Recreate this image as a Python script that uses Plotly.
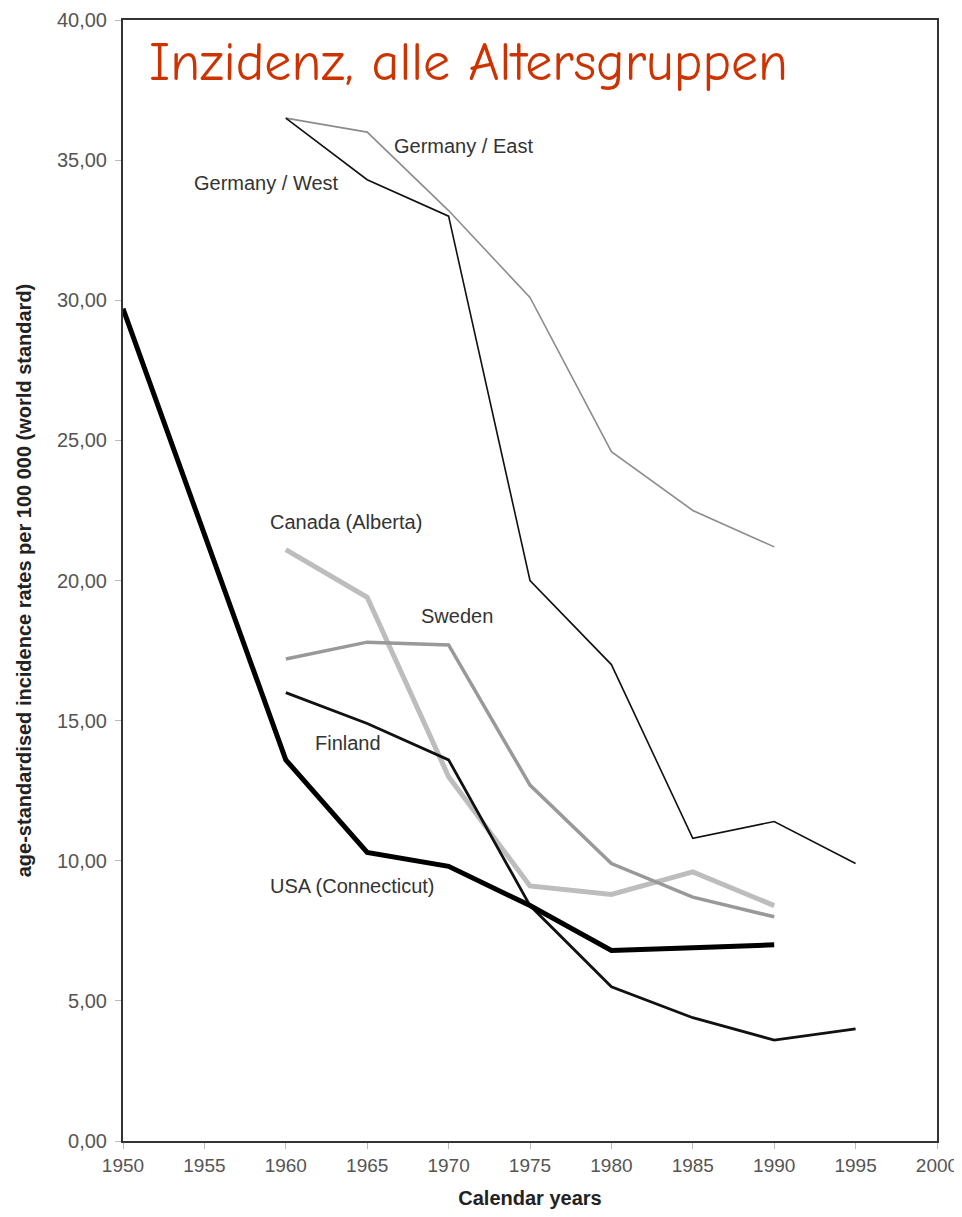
import plotly.graph_objects as go

years_usa = [1950, 1960, 1965, 1970, 1975, 1980, 1985, 1990]
usa = [29.7, 13.6, 10.3, 9.8, 8.4, 6.8, 6.9, 7.0]

years_fin = [1960, 1965, 1970, 1975, 1980, 1985, 1990, 1995]
finland = [16.0, 14.9, 13.6, 8.4, 5.5, 4.4, 3.6, 4.0]

years_gw = [1960, 1965, 1970, 1975, 1980, 1985, 1990, 1995]
germany_west = [36.5, 34.3, 33.0, 20.0, 17.0, 10.8, 11.4, 9.9]

years_ge = [1960, 1965, 1970, 1975, 1980, 1985, 1990]
germany_east = [36.5, 36.0, 33.2, 30.1, 24.6, 22.5, 21.2]

years_can = [1960, 1965, 1970, 1975, 1980, 1985, 1990]
canada = [21.1, 19.4, 13.0, 9.1, 8.8, 9.6, 8.4]

years_swe = [1960, 1965, 1970, 1975, 1980, 1985, 1990]
sweden = [17.2, 17.8, 17.7, 12.7, 9.9, 8.7, 8.0]

x_ticks = list(range(1950, 2001, 5))
y_ticks = [0, 5, 10, 15, 20, 25, 30, 35, 40]

labels = [
    ("Germany / East", 1970.9, 35.5),
    ("Germany / West", 1958.8, 34.2),
    ("Canada (Alberta)", 1963.7, 22.1),
    ("Sweden", 1970.5, 18.75),
    ("Finland", 1963.8, 14.2),
    ("USA (Connecticut)", 1964.1, 9.1),
]

fig = go.Figure()
series = [
    ("Germany / East", years_ge, germany_east, "#8c8c8c", 1.6),
    ("Canada (Alberta)", years_can, canada, "#bdbdbd", 5),
    ("Sweden", years_swe, sweden, "#999999", 3.5),
    ("Germany / West", years_gw, germany_west, "#111111", 1.6),
    ("Finland", years_fin, finland, "#111111", 2.8),
    ("USA (Connecticut)", years_usa, usa, "#000000", 5),
]
for name, xs, ys, col, w in series:
    fig.add_trace(go.Scatter(x=xs, y=ys, mode="lines", name=name,
                             line=dict(color=col, width=w), showlegend=False))

for text, x, y in labels:
    fig.add_annotation(x=x, y=y, text=text, showarrow=False,
                       font=dict(family="Liberation Sans, Arial", size=20, color="#333333"))

fig.add_annotation(xref="paper", yref="paper", x=0.030, y=0.9625, xanchor="left", yanchor="middle",
                   text="Inzidenz, alle Altersgruppen", showarrow=False,
                   font=dict(family="Comic Sans MS, Comic Neue, Lato", size=54, color="#cc3300"))

axis_common = dict(showgrid=False, zeroline=False, showline=True, mirror=True,
                   linecolor="#333333", linewidth=2, ticks="outside", ticklen=6,
                   tickcolor="#bbbbbb", automargin=False)

fig.update_xaxes(range=[1950, 2000], tickvals=x_ticks, ticktext=[str(t) for t in x_ticks],
                 tickfont=dict(family="Liberation Sans, Arial", size=19, color="#555555"),
                 title=dict(text="<b>Calendar years</b>", standoff=25,
                            font=dict(family="Liberation Sans, Arial", size=20, color="#222222")),
                 **axis_common)
fig.update_yaxes(range=[0, 40], tickvals=y_ticks, tickformat=".2f", ticklabelstandoff=4,
                 tickfont=dict(family="Liberation Sans, Arial", size=20, color="#555555"),
                 title=dict(text="<b>age-standardised incidence rates per 100 000 (world standard)</b>", standoff=20,
                            font=dict(family="Liberation Sans, Arial", size=20, color="#222222")),
                 **axis_common)

fig.update_layout(width=954, height=1201, separators=",.",
                  margin=dict(l=115, r=25, t=12, b=68),
                  plot_bgcolor="white", paper_bgcolor="white")

fig.write_html("out.html")
